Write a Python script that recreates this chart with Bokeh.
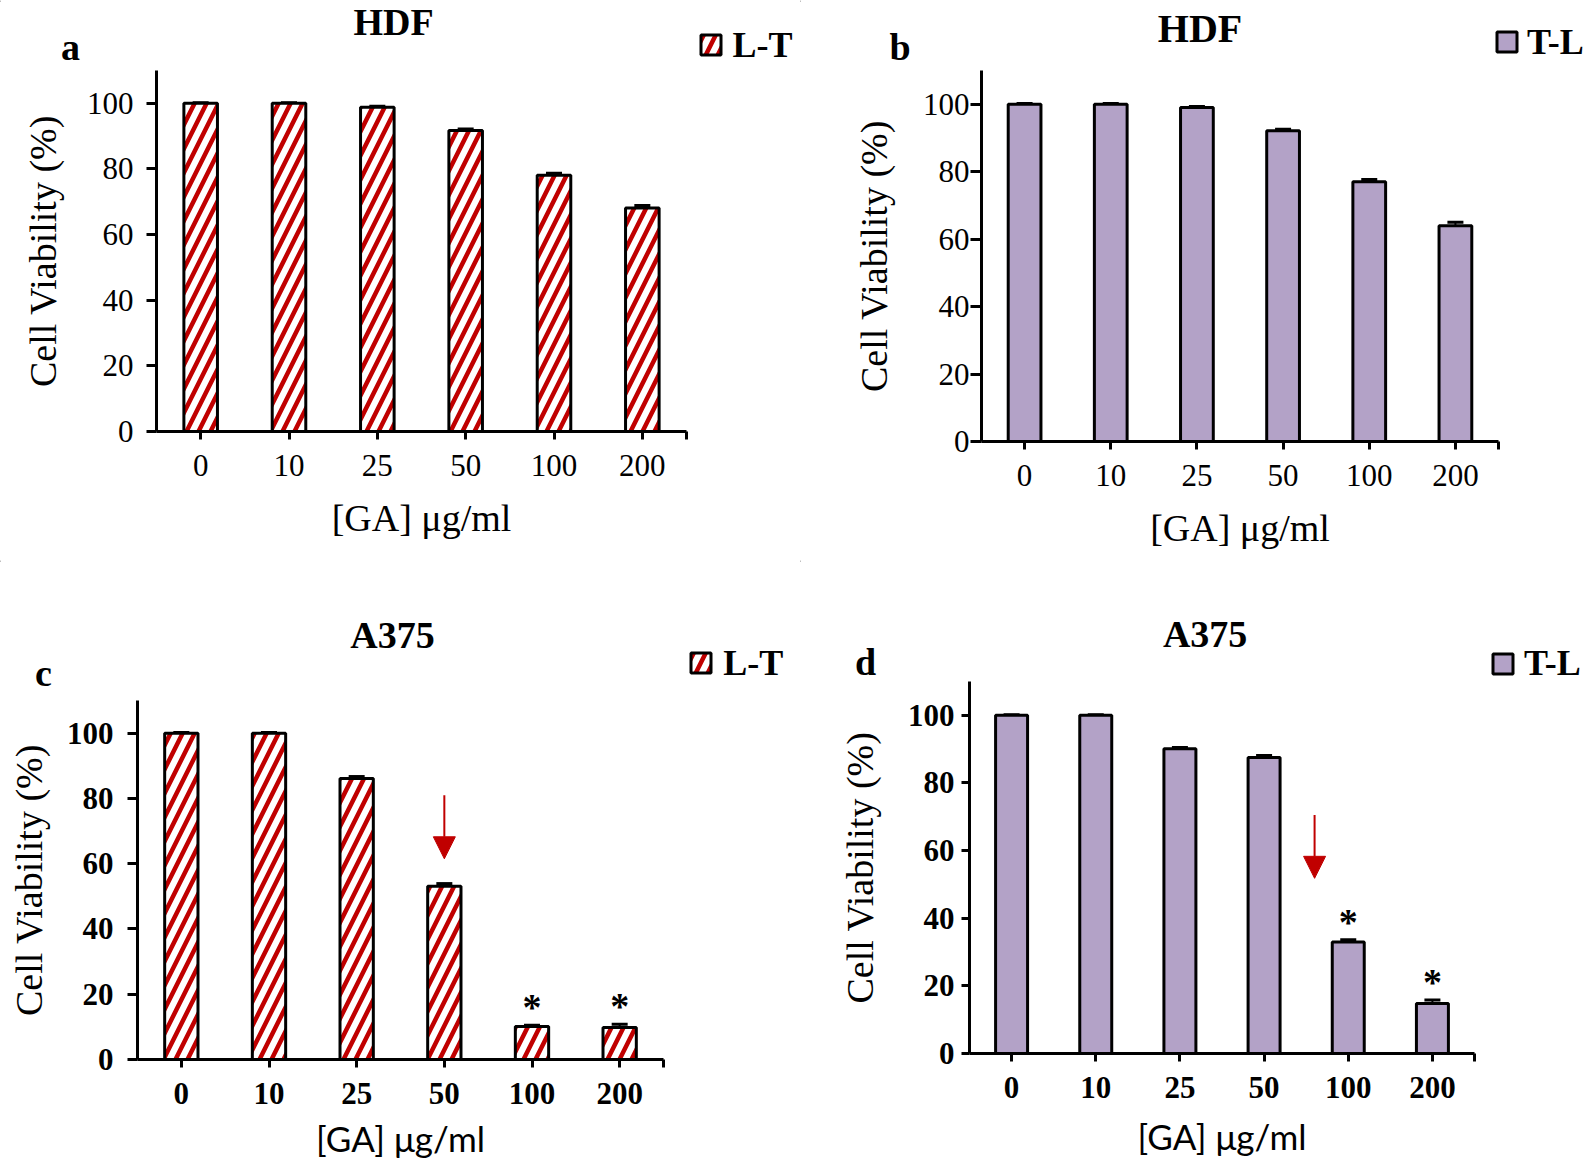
from bokeh.plotting import figure
from bokeh.models import (Range1d, FixedTicker, Whisker, TeeHead, ColumnDataSource,
                          Label, Legend, LegendItem, Arrow, NormalHead)
from bokeh.layouts import column, row
from bokeh.embed import file_html
from bokeh.resources import INLINE
from bokeh.core.properties import value

# ---------------- data ----------------
concentrations = ["0", "10", "25", "50", "100", "200"]
y_ticks = [0, 20, 40, 60, 80, 100]

hdf_lt = [100.0, 100.0, 98.8, 91.7, 78.1, 68.1]
hdf_lt_err = [0.2, 0.2, 0.3, 0.5, 0.6, 0.8]
hdf_tl = [100.0, 100.0, 99.0, 92.1, 77.0, 64.0]
hdf_tl_err = [0.2, 0.2, 0.3, 0.5, 0.7, 1.0]
a375_lt = [100.0, 100.0, 86.1, 53.1, 10.1, 9.8]
a375_lt_err = [0.2, 0.2, 0.6, 0.8, 0.4, 1.0]
a375_tl = [100.0, 100.0, 90.1, 87.5, 33.0, 14.8]
a375_tl_err = [0.2, 0.2, 0.4, 0.6, 0.6, 1.0]

significant_a375 = [4, 5]          # indices marked with "*"
arrow_c = (3.5, 81.0, 3.5, 61.5)   # x_start, y_start, x_end, y_end (data units)
arrow_d = (4.1, 70.5, 4.1, 51.8)

RED = "#C00000"
PURPLE = "#B3A2C7"
SERIF = "Liberation Serif"
SANS = "Lato"


def bar_style(hatched):
    if hatched:
        return dict(fill_color="white", line_color="black", line_width=3,
                    hatch_pattern="/", hatch_color=RED, hatch_weight=4.5, hatch_scale=24)
    return dict(fill_color=PURPLE, line_color="black", line_width=3)


def make_header(w, h, hatched, legend_name, title, title_pos, title_size,
                letter, letter_pos, legend_loc, legend_standoff):
    hd = figure(width=w, height=h, x_range=Range1d(0, w), y_range=Range1d(h, 0),
                x_axis_type=None, y_axis_type=None, min_border=0, title=None,
                output_backend="svg", toolbar_location=None)
    hd.frame_align = False
    hd.outline_line_color = None
    hd.background_fill_color = "white"
    hd.border_fill_color = "white"
    hd.add_layout(Label(x=title_pos[0], y=title_pos[1], text=title, text_font=SERIF,
                        text_font_style="bold", text_font_size=title_size,
                        text_align="center", text_baseline="alphabetic", text_color="black"))
    hd.add_layout(Label(x=letter_pos[0], y=letter_pos[1], text=letter, text_font=SERIF,
                        text_font_style="bold", text_font_size="38px",
                        text_align="center", text_baseline="alphabetic", text_color="black"))
    # legend swatch renderer: a zero-size, off-screen bar that only carries the style
    swatch = hd.vbar(x=[-w], top=[0], bottom=0, width=0, **bar_style(hatched))
    legend = Legend(items=[LegendItem(label=legend_name, renderers=[swatch])],
                    location=legend_loc, glyph_width=25, glyph_height=25,
                    label_text_font=SERIF, label_text_font_style="bold",
                    label_text_font_size="36px", label_text_color="black",
                    label_text_baseline="alphabetic",
                    label_standoff=legend_standoff, padding=0, margin=0, spacing=0,
                    border_line_alpha=0, background_fill_alpha=0)
    hd.add_layout(legend)
    return hd


def make_panel(vals, errs, hatched, fig_w, fig_h, left, fw, fh, tick_bold,
               xlabel_font, xlabel_size, xlab_standoff, ylab_standoff, ytick_out,
               ytick_standoff, stars=None, arrow=None):
    p = figure(width=fig_w, height=fig_h, x_range=Range1d(0, 6), y_range=Range1d(0, 110),
               output_backend="svg", toolbar_location=None, title=None,
               min_border_left=left, min_border_right=fig_w - left - fw,
               min_border_top=0, min_border_bottom=fig_h - fh)
    p.frame_align = False
    p.outline_line_color = None
    p.xgrid.visible = False
    p.ygrid.visible = False
    p.background_fill_color = "white"
    p.border_fill_color = "white"

    xs = [i + 0.5 for i in range(len(concentrations))]
    src = ColumnDataSource(dict(
        x=xs, top=vals,
        upper=[v + e for v, e in zip(vals, errs)],
        lower=[v - e for v, e in zip(vals, errs)]))

    p.vbar(x="x", top="top", bottom=0, width=0.38, source=src, **bar_style(hatched))

    p.add_layout(Whisker(base="x", upper="upper", lower="lower", source=src,
                         line_color="black", line_width=2,
                         upper_head=TeeHead(size=16, line_width=3, line_color="black"),
                         lower_head=TeeHead(size=16, line_width=3, line_color="black")))

    xa = p.xaxis[0]
    xa.ticker = FixedTicker(ticks=xs + [6])
    overrides = {x: c for x, c in zip(xs, concentrations)}
    overrides[6] = ""
    xa.major_label_overrides = overrides
    xa.axis_label = "[GA] \u03bcg/ml"
    xa.axis_label_text_font = xlabel_font
    xa.axis_label_text_font_size = xlabel_size
    xa.axis_label_text_font_style = "normal"
    xa.axis_label_text_color = "black"
    xa.axis_label_standoff = xlab_standoff
    xa.major_label_standoff = 15
    xa.major_tick_out = 8
    xa.major_tick_in = 0
    xa.minor_tick_line_color = None

    ya = p.yaxis[0]
    ya.ticker = FixedTicker(ticks=y_ticks)
    ya.axis_label = "Cell Viability (%)"
    ya.axis_label_text_font = SERIF
    ya.axis_label_text_font_size = "38px"
    ya.axis_label_text_font_style = "normal"
    ya.axis_label_text_color = "black"
    ya.axis_label_standoff = ylab_standoff
    ya.major_label_standoff = ytick_standoff
    ya.major_tick_out = ytick_out
    ya.major_tick_in = 0
    ya.minor_tick_line_color = None

    for ax in (xa, ya):
        ax.axis_line_width = 3
        ax.axis_line_color = "black"
        ax.major_tick_line_width = 3
        ax.major_tick_line_color = "black"
        ax.major_label_text_font = SERIF
        ax.major_label_text_font_size = "31px"
        ax.major_label_text_font_style = "bold" if tick_bold else "normal"
        ax.major_label_text_color = "black"

    if stars:
        p.text(x=[xs[i] for i in stars], y=[vals[i] + errs[i] for i in stars],
               text=["*"] * len(stars), text_font=value(SERIF), text_font_style="bold",
               text_font_size="38px", text_align="center", text_baseline="alphabetic",
               y_offset=-18, text_color="black")
    if arrow:
        p.add_layout(Arrow(x_start=arrow[0], y_start=arrow[1], x_end=arrow[2], y_end=arrow[3],
                           line_color=RED, line_width=2,
                           end=NormalHead(size=22, fill_color=RED, line_color=RED, line_width=1)))
    return p


ha = make_header(800, 70, True, "L-T", "HDF", (393, 21), "38px", "a", (70, 46), (697.5, 4.5), 10)
pa = make_panel(hdf_lt, hdf_lt_err, True, 800, 490, 156, 530, 361, False, SERIF, "38px",
                18, 20, 10, 13)

hb = make_header(790, 70, False, "T-L", "HDF", (399.5, 28), "40px", "b", (99.5, 46), (694, 7.5), 8)
pb = make_panel(hdf_tl, hdf_tl_err, False, 790, 490, 181, 517, 371, False, SERIF, "38px",
                18, 25, 11, 1)

hc = make_header(800, 140, True, "L-T", "A375", (392, 74), "38px", "c", (43, 112), (688.3, 16.4), 10)
pc = make_panel(a375_lt, a375_lt_err, True, 800, 466, 137, 526, 359, True, SANS, "35px",
                10, 14, 10, 14, stars=significant_a375, arrow=arrow_c)

hd_ = make_header(790, 121, False, "T-L", "A375", (404.6, 73), "38px", "d", (65, 101), (690, -3), 9)
pd = make_panel(a375_tl, a375_tl_err, False, 790, 485, 169, 505, 372, True, SANS, "35px",
                14, 24, 8, 7, stars=significant_a375, arrow=arrow_d)

layout = column(row(column(ha, pa), column(hb, pb)), row(column(hc, pc), column(hd_, pd)))
open("out.html", "w").write(file_html(layout, INLINE))
